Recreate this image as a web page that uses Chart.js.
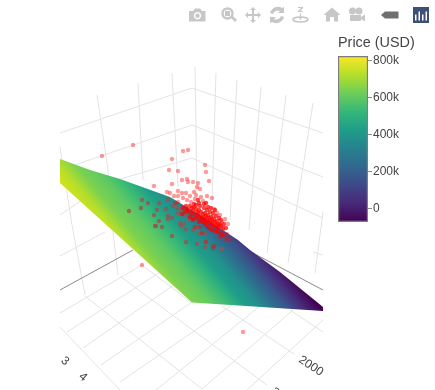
<!DOCTYPE html>
<html>
<head>
<meta charset="utf-8">
<title>Price surface</title>
<script src="https://cdn.jsdelivr.net/npm/chart.js@4"></script>
<style>
  html, body { margin: 0; padding: 0; background: #fff; }
  #wrap { position: relative; width: 435px; height: 390px; overflow: hidden; }
  canvas, svg { position: absolute; }
  #scene { left: 0; top: 0; }
  #colorbar { left: 330px; top: 30px; }
  #modebar { left: 0; top: 0; }
</style>
</head>
<body>
<div id="wrap">
  <canvas id="scene" width="435" height="390"></canvas>
  <canvas id="colorbar" width="105" height="205"></canvas>
  <!-- toolbar icons, not part of the data -->
  <svg id="modebar" width="435" height="30" fill="#c7c7c7">
    <path fill-rule="evenodd" d="M189 11h4l2-2.500h5l2 2.500h3.500v10.500h-16.500zM197.500 12a3.700 3.700 0 1 0 .01 0z"/>
    <circle cx="197.500" cy="15.700" r="2.200"/>
    <circle cx="227.500" cy="13.500" r="5" fill="none" stroke="#c7c7c7" stroke-width="2.500"/>
    <rect x="225" y="11" width="5" height="5"/>
    <path d="M231 18l2-2 4 4-2 2z"/>
    <path d="M253 7l3 3h-2v4h4v-2l3 3-3 3v-2h-4v4h2l-3 3-3-3h2v-4h-4v2l-3-3 3-3v2h4v-4h-2z"/>
    <path d="M270 13a8 8 0 0 1 12-5l2-1v6h-6l2-2a5 5 0 0 0-7 3zM284 17a8 8 0 0 1-12 5l-2 1v-6h6l-2 2a5 5 0 0 0 7-3z"/>
    <path d="M298 7h5v1l-3 3h3v1h-5v-1l3-3h-3zM300 13h1v4h1.500l-2 3-2-3h1.500z"/>
    <ellipse cx="300.500" cy="19.500" rx="7.500" ry="2.500" fill="none" stroke="#c7c7c7" stroke-width="1.500"/>
    <path d="M332 7.500l8.500 7.500h-2.500v6.500h-4v-4.500h-4v4.500h-4v-6.500h-2.500z"/>
    <path fill-rule="evenodd" d="M350 15h11v2l4-2.500v7l-4-2.500v2h-11z"/>
    <circle cx="352.500" cy="11" r="3.500"/><circle cx="359" cy="11" r="3.500"/>
    <path fill="#6f6f6f" d="M381 15l4-3.500h13.500v7h-13.500z"/>
    <rect x="413" y="7" width="16" height="16" fill="#3f4f75"/>
    <path fill="#fff" d="M415 14.500h1.500v6h-1.500zM418.500 11.500h1.500v9h-1.500zM422 14.500h1.500v6h-1.500zM425.500 11.500h1.500v9h-1.500z"/>
  </svg>
</div>
<script>
const aboveX = [102,133,142,243,183,188,172,205,169,178,206,182,187,188,193,209,198,172,197,154,200,178,167,170,182,186,194,196,190,174,178,201,207,212,195,187,183,175,178,191,203,214,217,220,213,225,228,222,219,217,223,226,229,227,220,214,213,206,202,195,200,193];
const aboveY = [156,145,265,332,151,150,159,165,170,171,172,180,179,182,182,181,183,184,187,186,189,191,192,193,193,193,192,195,196,196,196,197,196,198,199,200,198,203,202,202,201,209,213,215,216,219,224,222,225,229,230,239,239,234,237,246,248,242,233,227,227,220];
const denseX = [190,192,194,196,193,197,199,201,198,200,203,205,202,204,206,208,205,207,209,211,208,210,212,214,211,213,215,217,214,216,218,220,217,219,221,223,205,203,201,207,209,212,215,197,195,192,189,187,186,190,193,199,196,200,204,207,210,213,216,199,194,188,185,183,182,198,204,208,211,206,215,219,221,224,226,218,221,223];
const denseY = [206,208,207,209,211,212,210,212,214,216,214,213,218,217,216,215,220,219,218,217,222,221,220,219,224,223,222,221,226,225,224,224,228,227,226,228,224,222,220,226,228,230,231,218,215,214,212,209,206,217,219,222,205,206,208,210,212,213,216,203,204,210,212,208,214,200,204,207,208,203,210,218,220,224,228,232,234,235];
const belowX = [129,142,148,159,141,168,154,166,157,159,168,172,168,156,155,162,172,180,181,184,177,173,181,178,185,186,197,206,186,193,200,205,197,190,222,205];
const belowY = [211,200,203,203,208,200,215,209,210,221,216,218,219,226,226,227,236,223,226,224,208,206,209,213,215,242,244,242,229,230,233,233,227,220,249,247];

// surface outline, left edge clipped by the scene
const planeX = [60,90,120,145,170,200,238,250,280,323,323,192,60];
const planeY = [159,170,179,188,197,215,240,250,272,307,311,302.5,183];
// colour position across the surface, runs along (0.76, -0.65)
const planeDir = [0.76, -0.65];
const planeStart = -75;
const planeEnd = 43;
const planePos = [-75,-62,-50,-36,-23,-12,-2,8,19.5,30,43];
const planeColors = ["#d8e219","#b5de2b","#7ad151","#5ec962","#35b779","#1f9e89","#21908c","#2c728e","#3b528b","#472d7b","#440154"];

// wall and floor lines, null breaks a line
const gridX = [60,192,null,60,192,null,60,107,192,null,60,105,null,192,323,null,192,323,null,192,323,null,313,323,null,
  60,72,85,null,97,108,113,118,null,138,143,null,172,178,null,195,197,null,
  216,212,null,237,230,null,261,249,null,286,267,null,313,288,null,323,315,null,
  60,142,null,67,160,null,83,178,null,101,192,null,120,232,null,156,260,null,202,293,null,247,323,null,
  60,120,null,85,202,null,121,267,null,142,192,null,222,294,null,290,323];
const gridY = [133,88,null,170,125,null,215,183,158,null,256,232,null,88,133,null,125,177,null,158,218,null,252,255,null,
  147,225,295,null,95,170,232,275,null,83,180,null,73,187,null,67,193,null,
  73,203,null,80,220,null,87,230,null,95,253,null,103,263,null,212,273,null,
  313,265,null,332,272,null,348,282,null,365,302,null,382,305,null,390,306,null,389,310,null,390,320,null,
  327,390,null,296,389,null,277,385,null,265,303,null,306,354,null,310,332];
const axisX = [60,133,null,253,323];
const axisY = [290,250,null,253,290];

const tickText = ["3","4","2000","3"];
const tickX = [65,83,311,275];
const tickY = [361,377,366,392];
const tickAngle = [40,40,33,40];

const barTicks = [0,200000,400000,600000,800000];
const barMin = -73000;
const barMax = 824000;
const viridis = ["#440154","#482878","#3e4989","#31688e","#26828e","#1f9e89","#35b779","#6ece58","#b5de2b","#fde725"];

const fontName = '"Liberation Sans", Arial, sans-serif';

function toPoints(xs, ys) {
  return xs.map((x, i) => ({ x: x, y: ys[i] }));
}

function planeGradient(context) {
  const chart = context.chart;
  if (!chart.chartArea) return planeColors[0];
  const sx = chart.scales.x;
  const sy = chart.scales.y;
  const g = chart.ctx.createLinearGradient(
    sx.getPixelForValue(planeStart * planeDir[0]), sy.getPixelForValue(planeStart * planeDir[1]),
    sx.getPixelForValue(planeEnd * planeDir[0]), sy.getPixelForValue(planeEnd * planeDir[1])
  );
  planePos.forEach((p, i) => {
    g.addColorStop((p - planeStart) / (planeEnd - planeStart), planeColors[i]);
  });
  return g;
}

// rotated tick labels of the scene
const sceneTicks = {
  id: "sceneTicks",
  afterDatasetsDraw(chart) {
    const ctx = chart.ctx;
    ctx.save();
    ctx.font = "12px " + fontName;
    ctx.fillStyle = "#444";
    ctx.textAlign = "center";
    ctx.textBaseline = "middle";
    tickText.forEach((t, i) => {
      ctx.save();
      ctx.translate(chart.scales.x.getPixelForValue(tickX[i]), chart.scales.y.getPixelForValue(tickY[i]));
      ctx.rotate(tickAngle[i] * Math.PI / 180);
      ctx.fillText(t, 0, 0);
      ctx.restore();
    });
    ctx.restore();
  }
};

new Chart(document.getElementById("scene"), {
  type: "scatter",
  data: {
    datasets: [
      { data: toPoints(aboveX, aboveY), order: 0, pointRadius: 2.2, pointBorderWidth: 0, pointBackgroundColor: "rgba(255,0,0,0.4)" },
      { data: toPoints(denseX, denseY), order: 1, pointRadius: 2.2, pointBorderWidth: 0, pointBackgroundColor: "rgba(255,0,0,0.72)" },
      { data: toPoints(belowX, belowY), order: 2, pointRadius: 2.2, pointBorderWidth: 0, pointBackgroundColor: "rgba(150,85,80,0.8)" },
      { data: toPoints(planeX, planeY), order: 3, showLine: true, pointRadius: 0, borderWidth: 0, fill: "shape", backgroundColor: planeGradient },
      { data: toPoints(axisX, axisY), order: 4, showLine: true, pointRadius: 0, borderWidth: 1, borderColor: "#8a8a8a" },
      { data: toPoints(gridX, gridY), order: 5, showLine: true, pointRadius: 0, borderWidth: 1, borderColor: "#e3e3e3" }
    ]
  },
  options: {
    responsive: false,
    animation: false,
    events: [],
    layout: { padding: 0, autoPadding: false },
    scales: {
      x: { display: false, min: 0, max: 435 },
      y: { display: false, min: 0, max: 390, reverse: true }
    },
    plugins: { legend: { display: false }, tooltip: { enabled: false } }
  },
  plugins: [sceneTicks]
});

function barGradient(context) {
  const area = context.chart.chartArea;
  if (!area) return viridis[0];
  const g = context.chart.ctx.createLinearGradient(0, area.bottom, 0, area.top);
  viridis.forEach((c, i) => g.addColorStop(i / (viridis.length - 1), c));
  return g;
}

new Chart(document.getElementById("colorbar"), {
  type: "bar",
  data: {
    labels: ["Price"],
    datasets: [{
      data: [[barMin, barMax]],
      backgroundColor: barGradient,
      borderColor: "rgba(68,68,68,0.7)",
      borderWidth: 1.5,
      borderSkipped: false,
      barPercentage: 1,
      categoryPercentage: 1
    }]
  },
  options: {
    responsive: false,
    animation: false,
    events: [],
    layout: { padding: { left: 8, top: 0, bottom: 13 }, autoPadding: false },
    scales: {
      x: { display: false },
      y: {
        position: "right",
        min: barMin,
        max: barMax,
        afterFit: (s) => { s.width = 67; },
        afterBuildTicks: (s) => { s.ticks = barTicks.map((v) => ({ value: v })); },
        grid: { drawOnChartArea: false, tickLength: 4, color: "#8a8a8a" },
        border: { display: false },
        ticks: {
          includeBounds: false,
          padding: 1,
          color: "#444",
          font: { family: fontName, size: 12 },
          callback: (v) => (v === 0 ? "0" : v / 1000 + "k")
        }
      }
    },
    plugins: {
      legend: { display: false },
      tooltip: { enabled: false },
      title: {
        display: true,
        text: "Price (USD)",
        align: "start",
        color: "#444",
        font: { family: fontName, size: 14.4, weight: "normal" },
        padding: { top: 4.4, bottom: 4.4 }
      }
    }
  }
});
</script>
</body>
</html>
